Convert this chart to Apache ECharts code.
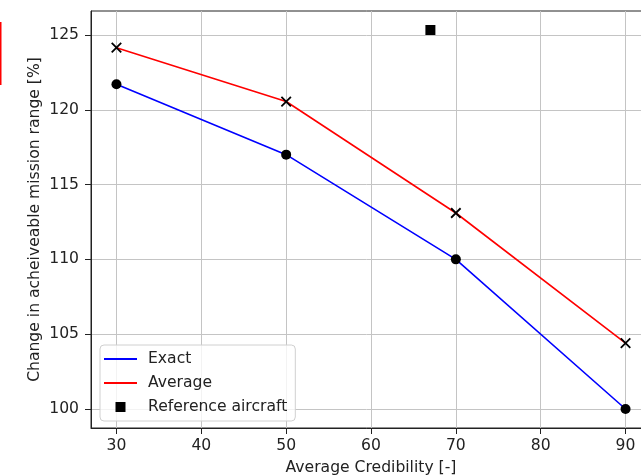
<!DOCTYPE html>
<html>
<head>
<meta charset="utf-8">
<script src="https://cdn.jsdelivr.net/npm/echarts@6/dist/echarts.min.js"></script>
<style>
html,body{margin:0;padding:0;background:#fff;}
#c{width:641px;height:476px;}
</style>
</head>
<body>
<div id="c"></div>
<script>
var credibility = [30, 50, 70, 90];
var exactValues = [121.7, 117.0, 110.0, 100.0];
var averageValues = [124.15, 120.55, 113.1, 104.4];
var referencePoint = [67.0, 125.33];
var xTicks = [30, 40, 50, 60, 70, 80, 90];
var yTicks = [100, 105, 110, 115, 120, 125];

function pairs(xs, ys) { return xs.map(function (x, i) { return [x, ys[i]]; }); }

var font = 'DejaVu Sans';
var fs = 15.6;
var chart = echarts.init(document.getElementById('c'), null, {renderer: 'canvas'});
chart.setOption({
  animation: false,
  backgroundColor: '#fff',
  textStyle: {fontFamily: font},
  grid: {left: 91, top: 11, width: 560, height: 417, show: true, borderColor: '#222', borderWidth: 1,
         containLabel: false, outerBoundsMode: 'none'},
  xAxis: {
    type: 'value', min: 27, max: 93,
    name: 'Average Credibility [-]', nameLocation: 'middle', nameGap: 32, nameMoveOverlap: false,
    nameTextStyle: {fontFamily: font, fontSize: fs, color: '#222'},
    axisLine: {show: true, lineStyle: {color: '#222', width: 1}},
    axisTick: {show: true, length: 6, lineStyle: {color: '#222'}, customValues: xTicks},
    axisLabel: {fontFamily: font, fontSize: fs, color: '#222', margin: 10, customValues: xTicks},
    splitLine: {show: true, lineStyle: {color: '#c4c4c4', width: 1}}
  },
  yAxis: {
    type: 'value', min: 98.73, max: 126.6,
    name: 'Change in acheiveable mission range [%]', nameLocation: 'middle', nameGap: 48, nameMoveOverlap: false,
    nameTextStyle: {fontFamily: font, fontSize: fs, color: '#222'},
    axisLine: {show: true, lineStyle: {color: '#222', width: 1}},
    axisTick: {show: true, length: 6, lineStyle: {color: '#222'}, customValues: yTicks},
    axisLabel: {fontFamily: font, fontSize: fs, color: '#222', margin: 12, customValues: yTicks},
    splitLine: {show: true, lineStyle: {color: '#c4c4c4', width: 1}}
  },
  legend: {
    orient: 'vertical', left: 100, top: 345,
    data: [
      {name: 'Exact', icon: 'path://M0,4h33v2h-33z', itemStyle: {color: '#0000ff'}},
      {name: 'Average', icon: 'path://M0,4h33v2h-33z', itemStyle: {color: '#ff0000'}},
      {name: 'Reference aircraft'}
    ],
    itemWidth: 33, itemHeight: 10, itemGap: 8,
    padding: [6, 8, 6, 4],
    backgroundColor: 'rgba(255,255,255,0.8)', borderColor: '#d0d0d0', borderWidth: 1, borderRadius: 4,
    textStyle: {fontFamily: font, fontSize: fs, color: '#222', padding: [0, 0, 0, 6]},
    selectedMode: false
  },
  graphic: [{type: 'rect', left: 0, top: 22, shape: {width: 1.5, height: 63}, style: {fill: '#ff0000'}}],
  series: [
    {name: 'Exact', type: 'line', data: pairs(credibility, exactValues), symbol: 'none',
     lineStyle: {color: '#0000ff', width: 1.6}, itemStyle: {color: '#0000ff'}, z: 2},
    {name: 'Average', type: 'line', data: pairs(credibility, averageValues), symbol: 'none',
     lineStyle: {color: '#ff0000', width: 1.6}, itemStyle: {color: '#ff0000'}, z: 2},
    {name: 'exactMarkers', type: 'scatter', data: pairs(credibility, exactValues), symbol: 'circle', symbolSize: 10,
     itemStyle: {color: '#000', opacity: 1}, z: 3},
    {name: 'averageMarkers', type: 'scatter', data: pairs(credibility, averageValues),
     symbol: 'path://M0,0L10,10M0,10L10,0', symbolSize: 9.5,
     itemStyle: {color: 'none', borderColor: '#000', borderWidth: 1.8, opacity: 1}, z: 3},
    {name: 'Reference aircraft', type: 'scatter', data: [referencePoint],
     symbol: 'path://M0,0h10v10h-10z', symbolSize: 10,
     itemStyle: {color: '#000', opacity: 1}, z: 3}
  ]
});
</script>
</body>
</html>
